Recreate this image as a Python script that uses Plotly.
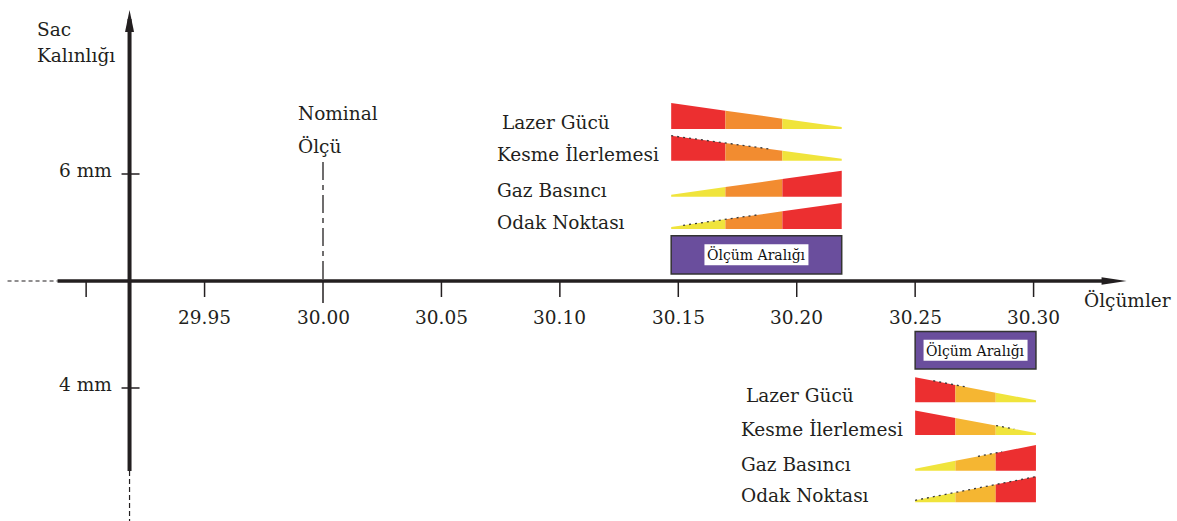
import plotly.graph_objects as go

# ---------------- data ----------------
x_ticks = [29.90, 29.95, 30.00, 30.05, 30.10, 30.15, 30.20, 30.25, 30.30]
x_tick_labels = ["", "29.95", "30.00", "30.05", "30.10", "30.15", "30.20", "30.25", "30.30"]
y_ticks = [6, 4]
y_tick_labels = ["6 mm", "4 mm"]
nominal_value = 30.00
nominal_label = ["Nominal", "Ölçü"]
y_title = ["Sac", "Kalınlığı"]
x_title = "Ölçümler"
parameters = ["Lazer Gücü", "Kesme İlerlemesi", "Gaz Basıncı", "Odak Noktası"]
trend = ["down", "down", "up", "up"]
range_6mm = [30.147, 30.219]
range_4mm = [30.250, 30.301]
range_label = "Ölçüm Aralığı"

# ---------------- layout / style ----------------
W, H = 1177, 521
X_SCALE = 2368.6          # px per unit on the measurement axis
Y_SCALE = 107.0           # px per mm on the thickness axis
NOM_PX, AXIS_PX = 323, 281
axis_y = sum(y_ticks) / len(y_ticks)   # horizontal axis sits between the two thickness levels

def dx(p):
    return p / X_SCALE

def dy(p):
    return p / Y_SCALE

x_range = [nominal_value - dx(NOM_PX), nominal_value + dx(W - NOM_PX)]
y_range = [axis_y - dy(H - AXIS_PX), axis_y + dy(AXIS_PX)]

FONT = "DejaVu Serif"
FS = 18.5
INK = "#231f20"
RED, YEL, PURPLE = "#ec2f30", "#f0e43c", "#6a4e9d"

groups = [
    dict(level=y_ticks[0], rng=range_6mm, mid="#f28c30",
         bottoms=[-45, -13.3, 22.7, 55], heights=[26, 25, 26, 26],
         box=[61.7, 100], fr=[0, 0.318, 0.652, 1],
         dots=[(1, 0.0, 0.57), (3, 0.07, 0.52)]),
    dict(level=y_ticks[1], rng=range_4mm, mid="#f5b632",
         bottoms=[14.3, 47, 82.7, 114.3], heights=[25, 24.5, 25.7, 25.7],
         box=[-56.5, -19], fr=[0, 0.333, 0.667, 1],
         dots=[(0, 0.15, 0.43), (1, 0.67, 0.82), (2, 0.52, 0.72), (3, 0.0, 1.0)]),
]

fig = go.Figure()
shapes = []
annotations = []

def line(x0, y0, x1, y1, w=1.5, color=INK, dash=None):
    d = dict(type="line", xref="x", yref="y", x0=x0, y0=y0, x1=x1, y1=y1,
             line=dict(color=color, width=w))
    if dash:
        d["line"]["dash"] = dash
    shapes.append(d)

def text(s, x, y, size=FS, xanchor="left", color=INK):
    annotations.append(dict(text=s, x=x, y=y, xref="x", yref="y", showarrow=False,
                            xanchor=xanchor, yanchor="middle",
                            font=dict(family=FONT, size=size, color=color)))

def poly(xs, ys, color):
    fig.add_trace(go.Scatter(x=xs + [xs[0]], y=ys + [ys[0]], mode="lines", fill="toself",
                             fillcolor=color, line=dict(width=0, color=color),
                             hoverinfo="skip", showlegend=False))

# ---------------- axes ----------------
y_axis_x = x_ticks[0] + dx(43.4)
# horizontal axis
line(y_axis_x - dx(122), axis_y, y_axis_x - dx(72), axis_y, w=1.2, dash="4px,3px")
line(y_axis_x - dx(72), axis_y, x_ticks[-1] + dx(74), axis_y, w=3.5)
poly([x_ticks[-1] + dx(93), x_ticks[-1] + dx(68), x_ticks[-1] + dx(68)],
     [axis_y, axis_y + dy(3.8), axis_y - dy(3.8)], INK)
# vertical axis
line(y_axis_x, axis_y + dy(262), y_axis_x, axis_y - dy(190), w=4)
line(y_axis_x, axis_y - dy(190), y_axis_x, axis_y - dy(245), w=1.2, dash="5px,3px")
poly([y_axis_x, y_axis_x + dx(4.5), y_axis_x - dx(4.5)],
     [axis_y + dy(271), axis_y + dy(249), axis_y + dy(249)], INK)

# x ticks + labels
for v, lab in zip(x_ticks, x_tick_labels):
    depth = 22 if v == nominal_value else 16
    line(v, axis_y, v, axis_y - dy(depth), w=1.5)
    if lab:
        text(lab, v, axis_y - dy(36.5), xanchor="center")

# y ticks + labels
for v, lab in zip(y_ticks, y_tick_labels):
    line(y_axis_x - dx(8), v, y_axis_x + dx(10), v, w=1.5)
    text(lab, y_axis_x - dx(16), v + dy(3.5), xanchor="right")

# axis titles
text(y_title[0], y_axis_x - dx(95), axis_y + dy(251.5))
text(y_title[1], y_axis_x - dx(95), axis_y + dy(225.5))
text(x_title, x_ticks[-1] + dx(48), axis_y - dy(18.5))

# nominal line
line(nominal_value, axis_y + dy(119), nominal_value, axis_y, w=1.3, dash="18px,5px,5px,5px")
text(nominal_label[0], nominal_value - dx(27), axis_y + dy(168))
text(nominal_label[1], nominal_value - dx(27), axis_y + dy(135))

# ---------------- parameter wedges ----------------
TIP = 2.0
for g in groups:
    x0, x1 = g["rng"]
    lev = g["level"]
    span = x1 - x0
    fr = g["fr"]
    for i, (name, tr) in enumerate(zip(parameters, trend)):
        bot = lev - dy(g["bottoms"][i])
        h = g["heights"][i]
        if tr == "down":
            hfun = lambda f, h=h: h - (h - TIP) * f
            cols = [RED, g["mid"], YEL]
        else:
            hfun = lambda f, h=h: TIP + (h - TIP) * f
            cols = [YEL, g["mid"], RED]
        for k in range(3):
            fa, fb = fr[k], fr[k + 1]
            xa, xb = x0 + span * fa, x0 + span * fb
            poly([xa, xa, xb, xb], [bot, bot + dy(hfun(fa)), bot + dy(hfun(fb)), bot], cols[k])
        indent = 5 if i == 0 else 0
        text(name, x0 - dx(176 - indent), bot + dy(6.5))
    # dotted artefacts along sloped edges
    for (i, fa, fb) in g["dots"]:
        bot = lev - dy(g["bottoms"][i])
        h = g["heights"][i]
        if trend[i] == "down":
            hf = lambda f: h - (h - TIP) * f
        else:
            hf = lambda f: TIP + (h - TIP) * f
        line(x0 + span * fa, bot + dy(hf(fa)), x0 + span * fb, bot + dy(hf(fb)),
             w=1.3, color="#3a3a3a", dash="2px,4px")
    # measurement range box
    btop, bbot = lev - dy(g["box"][0]), lev - dy(g["box"][1])
    shapes.append(dict(type="rect", xref="x", yref="y", x0=x0, x1=x1, y0=bbot, y1=btop,
                       fillcolor=PURPLE, line=dict(color="#333333", width=1.5)))
    cx = (x0 + x1) / 2
    cy = (btop + bbot) / 2
    shapes.append(dict(type="rect", xref="x", yref="y", x0=cx - dx(52), x1=cx + dx(52),
                       y0=cy - dy(10.5), y1=cy + dy(10.5), fillcolor="white",
                       line=dict(width=0)))
    text(range_label, cx, cy, size=14, xanchor="center", color="#111111")

fig.update_layout(
    width=W, height=H, autosize=False,
    margin=dict(l=0, r=0, t=0, b=0, pad=0),
    paper_bgcolor="white", plot_bgcolor="white",
    font=dict(family=FONT, color=INK),
    xaxis=dict(range=x_range, visible=False, showgrid=False, zeroline=False, fixedrange=True),
    yaxis=dict(range=y_range, visible=False, showgrid=False, zeroline=False, fixedrange=True),
    shapes=shapes, annotations=annotations, showlegend=False,
)

fig.write_html("out.html", config={"displayModeBar": False},
               post_script="document.body.style.margin='0';document.body.style.padding='0';")
